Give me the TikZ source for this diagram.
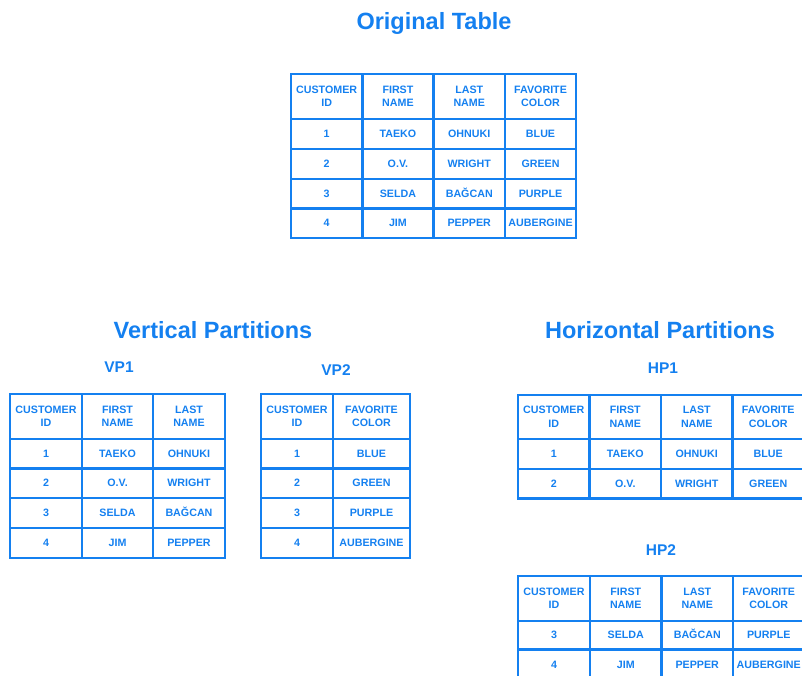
\documentclass[tikz,border=0pt]{standalone}
\usepackage{fontspec}
\setmainfont{Liberation Sans}
\definecolor{tblue}{RGB}{20,128,240}
\tikzset{
  cell/.style={draw=tblue, line width=2.5pt, anchor=north west, inner sep=0pt, outer sep=0pt,
    align=center, text=tblue, font=\fontsize{10.7}{13.5}\selectfont\bfseries},
  bigtitle/.style={text=tblue, font=\fontsize{23.5}{28}\selectfont\bfseries, inner sep=0pt},
  subtitle/.style={text=tblue, font=\fontsize{15.5}{18}\selectfont\bfseries, inner sep=0pt}
}
\newcommand\trow[4]{%
  \foreach \cx/\cw/\ct [count=\ci] in {#4} {%
    \node[cell, minimum width=\cw pt, minimum height=#3 pt] (#1-\ci) at (\cx,#2) {\ct};}}
\newcommand\bagcan{BA\smash{Ğ}CAN}
\begin{document}
\begin{tikzpicture}[x=1pt,y=-1pt]
\useasboundingbox (0,0) rectangle (802,675);
\clip (0,0) rectangle (802,675);
% Original table
\node[bigtitle] (torig) at (434,23) {Original Table};
\trow{o0}{74}{45}{291/71.3/{CUSTOMER\\ID}, 362.3/71.3/{FIRST\\NAME}, 433.6/71.3/{LAST\\NAME}, 504.9/71.3/{FAVORITE\\COLOR}}
\trow{o1}{119}{30}{291/71.3/1, 362.3/71.3/TAEKO, 433.6/71.3/OHNUKI, 504.9/71.3/BLUE}
\trow{o2}{149}{30}{291/71.3/2, 362.3/71.3/O.V., 433.6/71.3/WRIGHT, 504.9/71.3/GREEN}
\trow{o3}{179}{29.5}{291/71.3/3, 362.3/71.3/SELDA, 433.6/71.3/\bagcan, 504.9/71.3/PURPLE}
\trow{o4}{208.5}{29.5}{291/71.3/4, 362.3/71.3/JIM, 433.6/71.3/PEPPER, 504.9/71.3/AUBERGINE}
% Vertical partitions
\node[bigtitle] (tvert) at (213,330) {Vertical Partitions};
\node[subtitle] (tvp1) at (119,367) {VP1};
\node[subtitle] (tvp2) at (336,370) {VP2};
\trow{a0}{394}{45}{10/72/{CUSTOMER\\ID}, 82/71/{FIRST\\NAME}, 153/72/{LAST\\NAME}}
\trow{a1}{439}{29.5}{10/72/1, 82/71/TAEKO, 153/72/OHNUKI}
\trow{a2}{468.5}{29.5}{10/72/2, 82/71/O.V., 153/72/WRIGHT}
\trow{a3}{498}{30}{10/72/3, 82/71/SELDA, 153/72/\bagcan}
\trow{a4}{528}{30}{10/72/4, 82/71/JIM, 153/72/PEPPER}
\trow{b0}{394}{45}{261/72/{CUSTOMER\\ID}, 333/77/{FAVORITE\\COLOR}}
\trow{b1}{439}{29.5}{261/72/1, 333/77/BLUE}
\trow{b2}{468.5}{29.5}{261/72/2, 333/77/GREEN}
\trow{b3}{498}{30}{261/72/3, 333/77/PURPLE}
\trow{b4}{528}{30}{261/72/4, 333/77/AUBERGINE}
% Horizontal partitions
\node[bigtitle] (thor) at (660,330) {Horizontal Partitions};
\node[subtitle] (thp1) at (663,368) {HP1};
\node[subtitle] (thp2) at (661,550) {HP2};
\trow{c0}{395}{44}{518/71.5/{CUSTOMER\\ID}, 589.5/71.5/{FIRST\\NAME}, 661/71.5/{LAST\\NAME}, 732.5/71.5/{FAVORITE\\COLOR}}
\trow{c1}{439}{30}{518/71.5/1, 589.5/71.5/TAEKO, 661/71.5/OHNUKI, 732.5/71.5/BLUE}
\trow{c2}{469}{29.5}{518/71.5/2, 589.5/71.5/O.V., 661/71.5/WRIGHT, 732.5/71.5/GREEN}
\trow{d0}{576}{45}{518/72/{CUSTOMER\\ID}, 590/71.5/{FIRST\\NAME}, 661.5/71.5/{LAST\\NAME}, 733/71.5/{FAVORITE\\COLOR}}
\trow{d1}{621}{28.5}{518/72/3, 590/71.5/SELDA, 661.5/71.5/\bagcan, 733/71.5/PURPLE}
\trow{d2}{649.5}{30}{518/72/4, 590/71.5/JIM, 661.5/71.5/PEPPER, 733/71.5/AUBERGINE}
\end{tikzpicture}
\end{document}
